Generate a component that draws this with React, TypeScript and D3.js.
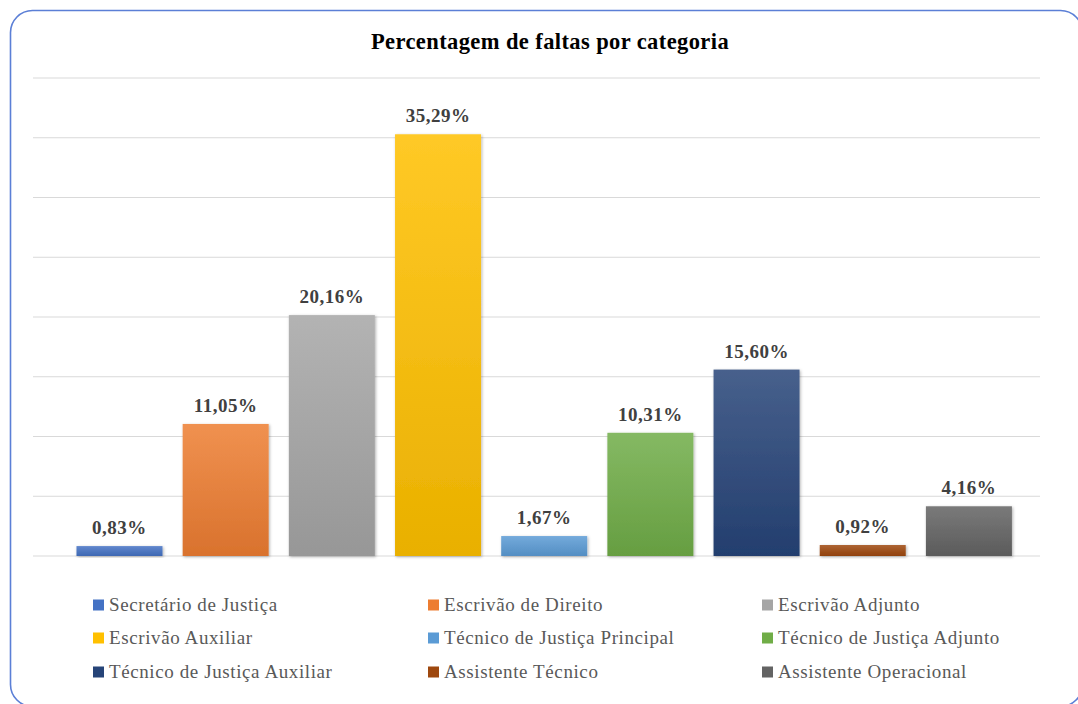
import React from "react";
import * as d3 from "d3";

const categories = [
  "Secretário de Justiça",
  "Escrivão de Direito",
  "Escrivão Adjunto",
  "Escrivão Auxiliar",
  "Técnico de Justiça Principal",
  "Técnico de Justiça Adjunto",
  "Técnico de Justiça Auxiliar",
  "Assistente Técnico",
  "Assistente Operacional",
];
const values = [0.83, 11.05, 20.16, 35.29, 1.67, 10.31, 15.6, 0.92, 4.16];
const colors = ["#4472C4", "#ED7D31", "#A5A5A5", "#FFC000", "#5B9BD5", "#70AD47", "#264478", "#9E480E", "#636363"];
const yTicks = [0, 5, 10, 15, 20, 25, 30, 35, 40];
const title = "Percentagem de faltas por categoria";

const W = 1078;
const H = 704;
const FONT = '"Liberation Serif", "Times New Roman", "DejaVu Serif", serif';

export default function App() {
  const x = d3.scaleBand<string>().domain(categories).range([66.4, 1022]).paddingInner(0.19).paddingOuter(0.095);
  const y = d3.scaleLinear().domain([0, 40]).range([556, 78]);
  const fmt = (v: number) => v.toFixed(2).replace(".", ",") + "%";

  return (
    <svg width={W} height={H} style={{ position: "absolute", left: 0, top: 0, background: "#fff" }}>
      <defs>
        {colors.map((c, i) => (
          <linearGradient key={i} id={`g${i}`} x1="0" y1="0" x2="0" y2="1">
            <stop offset="0%" stopColor={d3.interpolateRgb(c, "#ffffff")(0.15)} />
            <stop offset="100%" stopColor={d3.color(c)!.darker(0.25).formatHex()} />
          </linearGradient>
        ))}
        <filter id="sh" x="-20%" y="-20%" width="140%" height="140%">
          <feDropShadow dx="1" dy="1" stdDeviation="1.5" floodColor="#000" floodOpacity="0.3" />
        </filter>
      </defs>
      <rect x={10.5} y={10.5} width={1072} height={696} rx={22} ry={22} fill="#fff" stroke="#5B7FD6" strokeWidth={1.6} />
      <text x={550} y={49} textAnchor="middle" style={{ fontFamily: FONT, letterSpacing: "0.4px" }} fontWeight="bold" fontSize={22.5} fill="#000">
        {title}
      </text>
      {yTicks.map((t) => (
        <line key={t} x1={33} x2={1040} y1={y(t)} y2={y(t)} stroke="#D9D9D9" strokeWidth={1.2} />
      ))}
      {categories.map((c, i) => (
        <g key={c}>
          <rect
            x={x(c)}
            y={y(values[i])}
            width={x.bandwidth()}
            height={y(0) - y(values[i])}
            fill={`url(#g${i})`}
            filter="url(#sh)"
          />
          <text
            x={x(c)! + x.bandwidth() / 2}
            y={y(values[i]) - 12}
            textAnchor="middle"
            style={{ fontFamily: FONT, letterSpacing: "0.5px" }}
            fontWeight="bold"
            fontSize={19}
            fill="#404040"
          >
            {fmt(values[i])}
          </text>
        </g>
      ))}
      {categories.map((c, i) => {
        const col = i % 3;
        const row = Math.floor(i / 3);
        const lx = [93, 428, 762][col];
        const ly = [605, 638, 672][row];
        return (
          <g key={"l" + c}>
            <rect x={lx} y={ly - 5.5} width={11} height={11} fill={colors[i]} />
            <text x={lx + 16} y={ly + 6} style={{ fontFamily: FONT, letterSpacing: "0.6px" }} fontSize={19} fill="#595959">
              {c}
            </text>
          </g>
        );
      })}
    </svg>
  );
}
